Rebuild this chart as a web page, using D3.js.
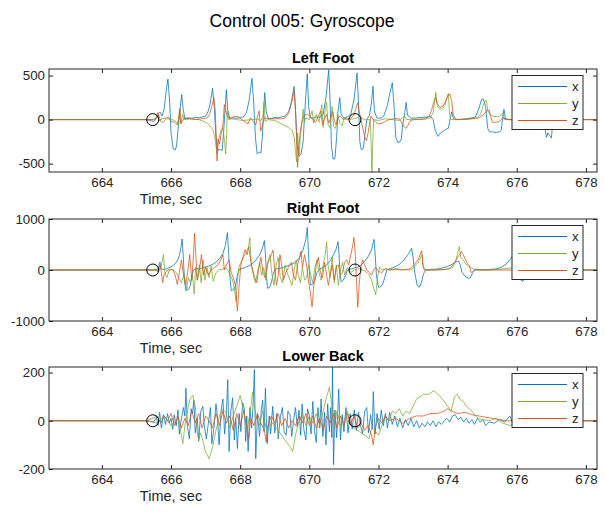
<!DOCTYPE html>
<html>
<head>
<meta charset="utf-8">
<title>Control 005: Gyroscope</title>
<script src="https://cdn.jsdelivr.net/npm/d3@7"></script>
<style>
    html, body { margin: 0; padding: 0; background: #ffffff; }
    svg { display: block; font-family: "Liberation Sans", Arial, Helvetica, sans-serif; }
    .tick text { fill: #262626; }
    .tick line { stroke: #262626; }
</style>
</head>
<body>
<div id="chart"></div>
<script>
(function() {
    'use strict';

    // ---- data (time in sec, angular rate in deg/s) ----
    var timeTicks = [664, 666, 668, 670, 672, 674, 676, 678];
    var eventTimes = [665.47, 671.32];
    var seriesNames = ['x', 'y', 'z'];

    var leftTicks = [-500, 0, 500];
    var rightTicks = [-1000, 0, 1000];
    var backTicks = [-200, 0, 200];

    var leftX = [[662.4,0],[665.3,0],[665.42,-15],[665.5,-20],[665.56,5],[665.62,60],[665.68,85],[665.74,40],[665.8,120],[665.86,330],[665.91,460],[665.96,200],[666.0,-150],[666.06,-330],[666.12,-345],[666.16,-300],[666.2,-120],[666.24,60],[666.31,285],[666.35,120],[666.4,10],[666.5,20],[666.6,15],[666.7,25],[666.8,20],[666.9,30],[667.0,40],[667.08,100],[667.14,200],[667.2,357],[667.25,150],[667.3,-200],[667.36,-350],[667.42,-340],[667.48,-350],[667.52,-150],[667.56,100],[667.6,338],[667.64,100],[667.7,10],[667.8,20],[667.9,15],[668.0,25],[668.1,30],[668.18,80],[668.26,220],[668.34,470],[668.39,200],[668.44,-200],[668.49,-390],[668.55,-370],[668.6,-380],[668.64,-200],[668.67,50],[668.71,308],[668.75,100],[668.8,20],[668.9,10],[669.0,25],[669.1,20],[669.2,30],[669.3,40],[669.4,90],[669.48,200],[669.56,376],[669.6,100],[669.65,-300],[669.7,-410],[669.76,-390],[669.82,-250],[669.87,100],[669.94,520],[669.98,150],[670.03,20],[670.1,15],[670.2,30],[670.3,25],[670.4,60],[670.48,250],[670.56,565],[670.6,200],[670.64,-300],[670.69,-450],[670.74,-440],[670.79,-200],[670.83,100],[670.88,250],[670.92,60],[671.0,20],[671.1,30],[671.2,60],[671.3,250],[671.38,530],[671.42,200],[671.46,-250],[671.5,-340],[671.56,-330],[671.6,-200],[671.66,0],[671.74,50],[671.8,200],[671.84,380],[671.88,100],[671.95,20],[672.05,15],[672.15,40],[672.25,150],[672.33,300],[672.4,420],[672.45,150],[672.5,-200],[672.56,-260],[672.62,-250],[672.66,-220],[672.7,-60],[672.76,80],[672.8,195],[672.84,50],[672.95,15],[673.1,20],[673.25,25],[673.4,30],[673.5,40],[673.58,0],[673.64,-120],[673.72,-190],[673.8,-150],[673.88,-130],[673.95,-110],[674.02,-100],[674.08,20],[674.12,90],[674.17,10],[674.25,0],[674.4,5],[674.55,10],[674.7,20],[674.8,30],[674.9,120],[674.98,230],[675.03,236],[675.1,150],[675.16,-100],[675.22,-140],[675.3,-140],[675.4,-145],[675.5,-140],[675.55,-120],[675.6,50],[675.63,117],[675.67,10],[675.8,0],[676.0,0],[676.2,5],[676.5,0],[676.7,-10],[676.8,-60],[676.86,-200],[676.9,-150],[676.95,-180],[677.0,-210],[677.04,-40],[677.1,0],[678.4,0]];

    var leftY = [[662.4,0],[665.5,0],[665.6,20],[665.65,50],[665.7,-20],[665.78,-30],[665.85,10],[666.0,5],[666.1,-10],[666.18,-40],[666.22,-60],[666.26,130],[666.29,-50],[666.33,60],[666.38,0],[666.6,10],[666.8,0],[666.95,-20],[667.05,-40],[667.12,-70],[667.2,-110],[667.26,-180],[667.3,-300],[667.33,-385],[667.36,-260],[667.4,-200],[667.44,-120],[667.5,-100],[667.55,-250],[667.58,-390],[667.61,-150],[667.63,150],[667.66,0],[667.75,10],[667.9,0],[668.1,-10],[668.3,0],[668.5,5],[668.6,-10],[668.66,30],[668.69,200],[668.72,-20],[668.8,0],[669.0,-10],[669.1,-30],[669.2,-50],[669.3,-70],[669.4,-90],[669.5,-120],[669.56,-200],[669.6,-350],[669.63,-480],[669.66,-150],[669.7,-420],[669.74,-200],[669.78,-60],[669.82,120],[669.85,-30],[669.9,20],[670.0,0],[670.08,100],[670.12,-40],[670.2,60],[670.28,-30],[670.36,170],[670.4,-90],[670.46,120],[670.5,200],[670.54,-60],[670.6,-90],[670.66,150],[670.7,-80],[670.76,-100],[670.82,60],[670.88,-40],[670.95,-70],[671.0,20],[671.1,0],[671.3,10],[671.45,30],[671.6,0],[671.76,0],[671.79,-300],[671.81,-640],[671.83,-300],[671.86,0],[672.0,-10],[672.2,10],[672.4,0],[672.6,-10],[672.72,30],[672.76,40],[672.8,0],[673.0,5],[673.3,0],[673.5,20],[673.58,80],[673.62,200],[673.66,310],[673.7,160],[673.76,120],[673.85,120],[673.92,160],[673.97,230],[674.02,300],[674.05,100],[674.08,0],[674.3,0],[674.6,5],[674.85,20],[674.95,60],[675.02,150],[675.08,210],[675.12,220],[675.16,100],[675.22,60],[675.3,40],[675.45,30],[675.55,50],[675.6,80],[675.64,0],[675.8,0],[678.4,0]];

    var leftZ = [[662.4,0],[665.5,0],[665.56,20],[665.62,80],[665.66,-10],[665.75,10],[665.85,20],[665.93,30],[666.0,-20],[666.1,-30],[666.18,-60],[666.22,20],[666.25,120],[666.28,-40],[666.32,-20],[666.4,20],[666.55,10],[666.7,0],[666.9,10],[667.05,20],[667.12,60],[667.18,150],[667.24,250],[667.28,100],[667.31,-250],[667.33,-470],[667.36,-220],[667.4,-280],[667.45,-160],[667.5,-60],[667.54,170],[667.58,100],[667.64,30],[667.75,20],[667.85,40],[667.95,30],[668.05,0],[668.15,-30],[668.22,-50],[668.3,20],[668.38,-20],[668.45,-60],[668.5,30],[668.55,100],[668.59,-130],[668.63,-80],[668.7,20],[668.8,10],[669.0,10],[669.2,10],[669.3,20],[669.4,70],[669.46,150],[669.52,250],[669.56,330],[669.6,120],[669.63,-200],[669.66,-540],[669.7,-280],[669.74,-120],[669.8,0],[669.86,50],[669.95,60],[670.02,40],[670.1,0],[670.18,-30],[670.26,40],[670.33,100],[670.38,-60],[670.44,10],[670.5,60],[670.56,-40],[670.62,20],[670.68,90],[670.73,-20],[670.78,-60],[670.84,30],[670.9,40],[670.98,0],[671.1,10],[671.22,20],[671.3,60],[671.36,150],[671.4,190],[671.44,100],[671.5,-20],[671.55,-100],[671.6,-200],[671.65,-240],[671.7,-150],[671.75,-20],[671.78,40],[671.85,0],[671.92,-30],[672.0,-50],[672.1,-40],[672.2,-20],[672.3,0],[672.45,10],[672.6,10],[672.68,-40],[672.74,-80],[672.8,-100],[672.86,-60],[672.92,-10],[673.05,0],[673.3,10],[673.45,30],[673.53,100],[673.6,200],[673.65,250],[673.7,180],[673.78,140],[673.86,150],[673.93,200],[674.0,270],[674.07,290],[674.12,200],[674.16,60],[674.22,10],[674.3,0],[674.6,5],[674.9,20],[675.05,60],[675.13,100],[675.2,110],[675.25,30],[675.3,-30],[675.4,-30],[675.5,-20],[675.6,20],[675.66,10],[675.75,0],[678.4,0]];

    var rightX = [[662.4,0],[665.5,0],[665.62,20],[665.68,150],[665.72,20],[665.8,10],[665.9,30],[666.0,60],[666.1,110],[666.18,180],[666.24,280],[666.29,450],[666.32,608],[666.35,300],[666.39,-200],[666.43,-405],[666.5,-380],[666.56,-300],[666.6,-120],[666.65,0],[666.72,30],[666.8,20],[666.9,40],[667.0,60],[667.1,80],[667.2,110],[667.3,150],[667.4,220],[667.5,320],[667.57,480],[667.63,732],[667.66,400],[667.7,-100],[667.74,-405],[667.8,-390],[667.86,-320],[667.92,-100],[667.98,20],[668.05,30],[668.15,50],[668.25,80],[668.35,120],[668.45,190],[668.55,280],[668.63,400],[668.7,575],[668.73,300],[668.76,-100],[668.79,-360],[668.85,-340],[668.9,-250],[668.96,-60],[669.02,20],[669.1,30],[669.2,40],[669.3,60],[669.45,100],[669.6,150],[669.72,250],[669.82,400],[669.9,600],[669.94,837],[669.97,400],[670.0,0],[670.03,-295],[670.1,-280],[670.16,-200],[670.22,-50],[670.3,20],[670.4,50],[670.5,100],[670.6,180],[670.7,300],[670.78,420],[670.83,556],[670.86,300],[670.89,-100],[670.92,-230],[670.98,-200],[671.04,-120],[671.1,0],[671.2,20],[671.3,40],[671.4,60],[671.5,100],[671.6,170],[671.7,260],[671.8,400],[671.87,600],[671.9,350],[671.94,-100],[672.0,-340],[672.06,-330],[672.12,-280],[672.18,-150],[672.24,0],[672.3,20],[672.4,40],[672.5,70],[672.6,110],[672.7,170],[672.8,250],[672.88,330],[672.96,425],[673.0,250],[673.05,-50],[673.12,-300],[673.18,-340],[673.24,-250],[673.3,-80],[673.36,0],[673.5,10],[673.7,20],[673.85,40],[674.0,70],[674.1,100],[674.2,140],[674.28,170],[674.32,177],[674.36,100],[674.42,-50],[674.5,-120],[674.6,-165],[674.66,-150],[674.72,-60],[674.8,0],[675.0,5],[675.2,10],[675.4,20],[675.55,50],[675.7,120],[675.8,200],[675.9,300],[675.98,420],[676.0,430],[676.03,200],[676.07,-100],[676.12,-200],[676.18,-220],[676.24,-120],[676.3,-20],[676.4,0],[678.4,0]];

    var rightY = [[662.4,0],[665.55,0],[665.65,-20],[665.72,100],[665.78,300],[665.82,-50],[665.88,-150],[665.95,0],[666.05,10],[666.15,-50],[666.22,-150],[666.3,-250],[666.38,-80],[666.45,-380],[666.5,-150],[666.56,-250],[666.62,-100],[666.67,-470],[666.71,50],[666.76,-200],[666.82,100],[666.87,-250],[666.93,200],[666.98,-200],[667.04,50],[667.1,-150],[667.16,80],[667.22,-220],[667.3,-50],[667.38,0],[667.5,20],[667.6,40],[667.7,-80],[667.78,-200],[667.84,-400],[667.88,-620],[667.92,-200],[667.96,50],[668.02,150],[668.1,250],[668.18,350],[668.24,450],[668.28,634],[668.32,100],[668.38,-100],[668.44,-250],[668.5,-50],[668.56,150],[668.62,-100],[668.68,50],[668.74,-200],[668.8,150],[668.86,300],[668.92,-100],[668.98,-300],[669.04,100],[669.1,250],[669.16,-150],[669.22,-250],[669.3,100],[669.36,-50],[669.44,-200],[669.5,-300],[669.56,0],[669.62,200],[669.68,-100],[669.74,-250],[669.8,50],[669.86,-200],[669.92,-150],[669.98,100],[670.04,-100],[670.1,-250],[670.16,50],[670.22,200],[670.28,-50],[670.34,-200],[670.4,100],[670.46,300],[670.5,556],[670.54,100],[670.6,-150],[670.66,250],[670.72,-250],[670.78,100],[670.84,-300],[670.9,0],[670.96,150],[671.02,-100],[671.1,50],[671.2,-50],[671.3,0],[671.45,30],[671.6,-20],[671.72,-80],[671.8,-200],[671.86,-350],[671.92,-490],[671.97,-150],[672.03,50],[672.1,0],[672.2,20],[672.35,0],[672.5,30],[672.7,10],[672.9,0],[673.0,30],[673.08,100],[673.15,150],[673.22,250],[673.26,300],[673.3,20],[673.4,0],[673.7,0],[674.0,10],[674.15,50],[674.22,150],[674.28,300],[674.34,458],[674.38,250],[674.45,200],[674.52,120],[674.6,80],[674.7,40],[674.8,0],[675.2,0],[675.6,20],[675.8,40],[675.95,20],[676.1,0],[678.4,0]];

    var rightZ = [[662.4,0],[665.55,0],[665.62,-30],[665.68,100],[665.72,-50],[665.76,-250],[665.8,-80],[665.9,0],[666.05,10],[666.12,-100],[666.18,-280],[666.24,-50],[666.3,200],[666.36,-100],[666.42,-300],[666.48,-50],[666.54,300],[666.6,-200],[666.64,200],[666.68,720],[666.72,250],[666.76,-200],[666.82,0],[666.88,300],[666.94,-100],[667.0,50],[667.08,-100],[667.16,0],[667.26,50],[667.36,100],[667.44,200],[667.5,300],[667.54,0],[667.6,100],[667.68,200],[667.74,-50],[667.8,-150],[667.86,-300],[667.92,-805],[667.97,-300],[668.02,100],[668.08,250],[668.14,400],[668.2,300],[668.25,458],[668.3,200],[668.36,0],[668.42,-150],[668.48,-250],[668.54,50],[668.6,250],[668.66,-50],[668.72,-150],[668.78,100],[668.84,200],[668.9,300],[668.95,390],[669.0,0],[669.05,-300],[669.1,-100],[669.15,300],[669.2,100],[669.25,-200],[669.32,-50],[669.4,50],[669.48,150],[669.54,-100],[669.6,-200],[669.66,100],[669.72,250],[669.76,370],[669.8,50],[669.86,300],[669.92,100],[669.97,-200],[670.02,-400],[670.08,-720],[670.13,-300],[670.2,100],[670.26,250],[670.32,-50],[670.38,-150],[670.44,150],[670.5,-100],[670.55,-300],[670.6,-100],[670.66,100],[670.72,-200],[670.78,50],[670.84,100],[670.9,-100],[670.96,-50],[671.02,150],[671.08,200],[671.14,100],[671.2,300],[671.26,500],[671.29,640],[671.33,300],[671.37,-300],[671.4,-730],[671.44,-300],[671.48,0],[671.54,200],[671.6,100],[671.66,0],[671.74,-50],[671.8,-100],[671.86,0],[671.92,50],[672.0,-30],[672.1,-50],[672.2,30],[672.3,0],[672.5,10],[672.7,0],[672.9,20],[673.0,80],[673.08,150],[673.15,200],[673.2,300],[673.25,380],[673.28,100],[673.34,0],[673.6,0],[673.9,10],[674.05,30],[674.15,100],[674.25,200],[674.32,280],[674.4,360],[674.45,300],[674.52,200],[674.58,120],[674.63,80],[674.68,-50],[674.72,-30],[674.8,20],[674.9,0],[678.4,0]];

    var backX = [[662.4,0],[665.3,0],[665.5,-5],[665.58,15],[665.62,-20],[665.67,35],[665.72,-30],[665.78,25],[665.84,-15],[665.9,30],[665.95,-10],[666.0,10],[666.05,-35],[666.09,25],[666.15,-20],[666.2,45],[666.24,-55],[666.3,10],[666.36,55],[666.4,20],[666.43,135],[666.47,-20],[666.53,-75],[666.58,50],[666.62,30],[666.66,85],[666.7,-50],[666.76,10],[666.8,-85],[666.86,40],[666.92,60],[666.96,-20],[667.02,-75],[667.08,-10],[667.14,55],[667.18,-95],[667.24,-30],[667.3,70],[667.34,20],[667.39,-100],[667.45,45],[667.5,90],[667.55,-55],[667.6,30],[667.64,171],[667.68,-127],[667.73,40],[667.78,95],[667.83,-80],[667.87,10],[667.92,-115],[667.97,30],[668.02,-45],[668.07,75],[668.12,50],[668.16,-85],[668.19,20],[668.23,-127],[668.28,55],[668.33,-30],[668.37,60],[668.41,212],[668.45,-157],[668.5,30],[668.56,-65],[668.61,45],[668.65,85],[668.69,-45],[668.73,135],[668.78,-95],[668.84,20],[668.88,-55],[668.94,60],[669.0,-50],[669.06,30],[669.1,-75],[669.16,15],[669.22,55],[669.27,-45],[669.33,-60],[669.38,40],[669.44,25],[669.49,-65],[669.55,10],[669.6,55],[669.65,-25],[669.7,45],[669.75,-60],[669.79,70],[669.84,-35],[669.9,-80],[669.95,50],[670.0,20],[670.05,-55],[670.1,80],[670.15,-40],[670.2,-90],[670.25,55],[670.3,-30],[670.34,90],[670.39,-65],[670.44,35],[670.48,-100],[670.53,70],[670.58,-45],[670.62,55],[670.65,-70],[670.67,222],[670.7,-182],[670.74,45],[670.79,-70],[670.82,30],[670.85,132],[670.9,-80],[670.95,25],[671.0,-45],[671.06,55],[671.12,-50],[671.18,30],[671.24,-35],[671.3,45],[671.36,-40],[671.42,35],[671.48,-20],[671.54,-55],[671.6,40],[671.66,55],[671.71,-50],[671.77,25],[671.82,-35],[671.85,121],[671.9,-55],[671.96,30],[672.02,-35],[672.08,45],[672.14,-20],[672.2,30],[672.26,-30],[672.32,35],[672.4,-15],[672.47,20],[672.55,-25],[672.62,10],[672.7,-30],[672.78,5],[672.86,-20],[672.94,10],[673.02,-25],[673.1,0],[673.18,-30],[673.26,-10],[673.34,-25],[673.42,-5],[673.5,-20],[673.58,0],[673.66,-25],[673.74,-5],[673.82,-15],[673.9,0],[673.98,10],[674.06,-5],[674.14,20],[674.22,25],[674.3,5],[674.38,15],[674.46,-5],[674.54,10],[674.62,-10],[674.7,5],[674.78,-15],[674.86,10],[674.94,-5],[675.02,5],[675.1,-20],[675.2,-5],[675.35,-10],[675.5,5],[675.65,-5],[675.8,20],[675.88,-10],[676.0,0],[678.4,0]];

    var backY = [[662.4,0],[665.3,0],[665.6,-10],[665.8,20],[666.0,-20],[666.2,10],[666.3,-60],[666.34,-95],[666.4,-20],[666.5,60],[666.55,90],[666.63,105],[666.7,60],[666.75,-40],[666.8,-80],[666.85,-50],[666.9,-70],[667.0,-130],[667.1,-157],[667.2,-110],[667.3,-40],[667.4,20],[667.5,50],[667.6,30],[667.7,-30],[667.8,20],[667.9,60],[668.0,105],[668.1,40],[668.2,-40],[668.28,30],[668.36,119],[668.45,20],[668.55,-20],[668.65,40],[668.75,-30],[668.85,-20],[668.95,-10],[669.05,-30],[669.2,-60],[669.35,-90],[669.45,-110],[669.52,-127],[669.6,-60],[669.7,0],[669.8,30],[669.9,-20],[670.0,20],[670.1,-10],[670.2,30],[670.3,-20],[670.4,40],[670.5,100],[670.58,139],[670.65,60],[670.72,-30],[670.8,40],[670.9,-20],[671.0,0],[671.1,40],[671.2,-20],[671.3,-30],[671.4,-40],[671.5,-50],[671.6,-60],[671.73,-75],[671.8,-30],[671.9,-40],[672.0,-60],[672.1,-20],[672.2,20],[672.3,0],[672.4,40],[672.5,30],[672.6,50],[672.7,20],[672.8,40],[672.9,30],[673.0,60],[673.1,90],[673.2,100],[673.3,110],[673.45,110],[673.55,120],[673.62,125],[673.7,110],[673.8,100],[673.9,80],[674.0,60],[674.1,40],[674.2,100],[674.28,110],[674.35,90],[674.45,80],[674.55,60],[674.7,40],[674.8,20],[674.9,10],[675.0,5],[675.2,0],[675.4,10],[675.6,-10],[675.8,-20],[675.95,-5],[676.1,0],[678.4,0]];

    var backZ = [[662.4,0],[665.3,0],[665.6,20],[665.7,-10],[665.8,20],[665.9,0],[666.0,30],[666.1,-20],[666.2,20],[666.3,-30],[666.4,10],[666.5,-20],[666.6,40],[666.7,-10],[666.8,30],[666.9,-30],[667.0,20],[667.1,0],[667.2,-30],[667.3,30],[667.4,-20],[667.5,40],[667.6,-10],[667.7,20],[667.8,-40],[667.9,30],[668.0,-20],[668.1,40],[668.2,-30],[668.25,-75],[668.3,10],[668.4,-20],[668.5,30],[668.6,-10],[668.7,-40],[668.75,-88],[668.8,-20],[668.9,20],[669.0,-10],[669.1,30],[669.2,-20],[669.3,10],[669.4,-30],[669.5,0],[669.6,-20],[669.7,20],[669.8,-10],[669.9,30],[670.0,-20],[670.1,20],[670.2,-30],[670.3,10],[670.4,-40],[670.5,20],[670.6,-10],[670.7,30],[670.8,-30],[670.9,20],[671.0,-20],[671.1,30],[671.2,-10],[671.3,20],[671.4,-30],[671.5,-10],[671.6,-40],[671.7,-20],[671.8,-60],[671.85,-100],[671.9,-30],[672.0,10],[672.1,-10],[672.2,20],[672.3,0],[672.5,10],[672.7,-10],[672.9,10],[673.1,20],[673.3,20],[673.5,30],[673.7,30],[673.9,40],[674.0,50],[674.1,40],[674.3,30],[674.5,35],[674.7,25],[674.9,20],[675.1,15],[675.3,10],[675.5,5],[675.7,0],[676.0,0],[678.4,0]];

    // ---- layout ----
    var W = 605, H = 517;
    var margin = { left: 49, right: 597 };
    var axisColor = '#262626';
    var colors = ['#0072BD', '#77AC30', '#D95319'];

    var panels = [
        { title: 'Left Foot', top: 69, height: 103, yDomain: [-595, 575], ticks: leftTicks, series: [leftX, leftY, leftZ] },
        { title: 'Right Foot', top: 219, height: 102, yDomain: [-1000, 1000], ticks: rightTicks, series: [rightX, rightY, rightZ] },
        { title: 'Lower Back', top: 367, height: 102, yDomain: [-200, 223], ticks: backTicks, series: [backX, backY, backZ] }
    ];

    var svg = d3.select('#chart')
        .append('svg')
        .attr('width', W)
        .attr('height', H);

    svg.append('text')
        .attr('x', 302)
        .attr('y', 27)
        .attr('text-anchor', 'middle')
        .style('font-size', '17.5px')
        .style('fill', '#000')
        .text('Control 005: Gyroscope');

    var x = d3.scaleLinear()
        .domain([662.47, 678.32])
        .range([margin.left, margin.right]);

    /**
     * Draw one subplot: box, ticks, traces, event markers, legend.
     */
    function drawPanel(p, idx) {
        var y = d3.scaleLinear()
            .domain(p.yDomain)
            .range([p.top + p.height, p.top]);

        var g = svg.append('g').attr('class', 'panel');
        var clipId = 'clip' + idx;

        svg.append('clipPath')
            .attr('id', clipId)
            .append('rect')
            .attr('x', margin.left)
            .attr('y', p.top)
            .attr('width', margin.right - margin.left)
            .attr('height', p.height);

        // traces
        var line = d3.line()
            .x(function(d) { return x(d[0]); })
            .y(function(d) { return y(d[1]); });

        var traces = g.append('g').attr('clip-path', 'url(#' + clipId + ')');
        p.series.forEach(function(s, i) {
            traces.append('path')
                .datum(s)
                .attr('d', line)
                .style('fill', 'none')
                .style('stroke', colors[i])
                .style('stroke-width', 0.9)
                .style('stroke-opacity', 0.85);
        });

        // event markers
        g.selectAll('circle.event')
            .data(eventTimes)
            .enter().append('circle')
            .attr('class', 'event')
            .attr('cx', function(d) { return x(d); })
            .attr('cy', y(0))
            .attr('r', 6)
            .style('fill', 'none')
            .style('stroke', '#000')
            .style('stroke-width', 1);

        // axes (MATLAB-like inward ticks on all four sides)
        var bottom = g.append('g')
            .attr('transform', 'translate(0,' + (p.top + p.height) + ')')
            .call(d3.axisBottom(x).tickValues(timeTicks).tickSize(-4).tickPadding(6));
        var top = g.append('g')
            .attr('transform', 'translate(0,' + p.top + ')')
            .call(d3.axisTop(x).tickValues(timeTicks).tickSize(-4).tickFormat(''));
        var left = g.append('g')
            .attr('transform', 'translate(' + margin.left + ',0)')
            .call(d3.axisLeft(y).tickValues(p.ticks).tickSize(-4).tickPadding(4).tickFormat(d3.format('d')));
        var right = g.append('g')
            .attr('transform', 'translate(' + margin.right + ',0)')
            .call(d3.axisRight(y).tickValues(p.ticks).tickSize(-4).tickFormat(''));

        [bottom, top, left, right].forEach(function(a) {
            a.select('.domain').remove();
            a.selectAll('text')
                .style('font-size', '13.3px')
                .style('font-family', '"Liberation Sans", Arial, sans-serif');
        });
        // plain hyphen for negatives, as in the original figure
        left.selectAll('text').text(function(d) { return String(d); });

        g.append('rect')
            .attr('x', margin.left)
            .attr('y', p.top)
            .attr('width', margin.right - margin.left)
            .attr('height', p.height)
            .style('fill', 'none')
            .style('stroke', axisColor)
            .style('stroke-width', 1);

        // titles
        g.append('text')
            .attr('x', (margin.left + margin.right) / 2)
            .attr('y', p.top - 6)
            .attr('text-anchor', 'middle')
            .style('font-size', '14.5px')
            .style('font-weight', 'bold')
            .style('fill', '#000')
            .text(p.title);

        g.append('text')
            .attr('x', 171)
            .attr('y', p.top + p.height + 32)
            .attr('text-anchor', 'middle')
            .style('font-size', '14.5px')
            .style('fill', axisColor)
            .text('Time, sec');

        // legend
        var lg = g.append('g')
            .attr('transform', 'translate(512,' + (p.top + 6.5) + ')');
        lg.append('rect')
            .attr('width', 71)
            .attr('height', 54)
            .style('fill', '#fff')
            .style('stroke', axisColor)
            .style('stroke-width', 1);
        seriesNames.forEach(function(name, i) {
            var ly = 11 + i * 17;
            lg.append('line')
                .attr('x1', 6).attr('x2', 55)
                .attr('y1', ly).attr('y2', ly)
                .style('stroke', colors[i])
                .style('stroke-width', 1);
            lg.append('text')
                .attr('x', 60)
                .attr('y', ly + 4.5)
                .style('font-size', '13.3px')
                .style('fill', axisColor)
                .text(name);
        });
    }

    panels.forEach(drawPanel);
})();
</script>
</body>
</html>
